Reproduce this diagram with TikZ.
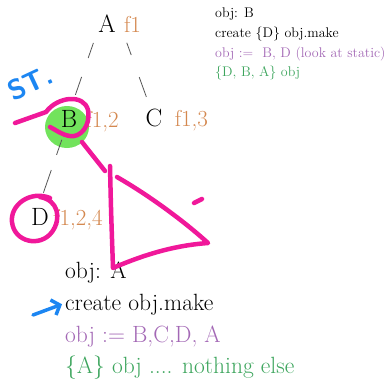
\documentclass[tikz,border=0pt]{standalone}
\usetikzlibrary{arrows.meta,positioning}
\definecolor{labelorange}{HTML}{D4884F}
\definecolor{notepurple}{HTML}{A368B5}
\definecolor{notegreen}{HTML}{3DA55D}
\definecolor{edgegray}{HTML}{555555}
\definecolor{penpink}{HTML}{F0189A}
\definecolor{penblue}{HTML}{1C86F2}
\definecolor{hlgreen}{HTML}{72E35C}

\begin{document}
\begin{tikzpicture}[x=1pt, y=-1pt,
  letter/.style={inner sep=0pt, font=\fontsize{25}{25}\selectfont},
  flabel/.style={inner sep=0pt, anchor=base west, text=labelorange, font=\fontsize{23}{23}\selectfont},
  edge/.style={draw=edgegray, line width=0.8pt},
  note/.style={inner sep=0pt, anchor=base west, font=\fontsize{14}{14}\selectfont},
  bignote/.style={inner sep=0pt, anchor=base west, font=\fontsize{23.5}{23.5}\selectfont},
  pen/.style={draw=penpink, line width=4.5pt, line cap=round, line join=round},
  bluepen/.style={draw=penblue, line width=3.5pt, line cap=round, line join=round}
]
  \useasboundingbox (0,0) rectangle (390,386);

  % highlighter under B
  \fill[hlgreen] (67,127) ellipse [x radius=22, y radius=21];

  % tree
  \node[letter] (A) at (107,24) {A};
  \node[letter] (B) at (69,119) {B};
  \node[letter] (C) at (154,118) {C};
  \node[letter] (D) at (40,217) {D};
  \node[flabel] (fA) at ([xshift=8pt]A.base east) {f1};
  \node[flabel] (fB) at ([xshift=8pt]B.base east) {f1,2};
  \node[flabel] (fC) at ([xshift=12pt]C.base east) {f1,3};
  \node[flabel] (fD) at ([xshift=4pt]D.base east) {f1,2,4};

  \draw[edge, shorten <=20pt, shorten >=25pt, dash pattern=on 16pt off 20pt on 19pt off 60pt] ([xshift=-7pt]A.center) -- ([xshift=-2pt]B.center);
  \draw[edge, shorten <=20pt, shorten >=22pt, dash pattern=on 13pt off 23.5pt on 21pt off 60pt] ([xshift=13pt]A.center) -- (C.center);
  \draw[edge, shorten <=22pt, shorten >=25pt, dash pattern=on 16pt off 16pt on 24pt off 60pt] (B.center) -- ([xshift=-5pt]D.center);

  % notes
  \node[note] (r1) at (215,17) {obj: B};
  \node[note] (r2) at (215,37) {create \{D\} obj.make};
  \node[note, text=notepurple] (r3) at (215,57) {obj :=\ \ B, D (look at static)};
  \node[note, text=notegreen] (r4) at (215,76) {\{D, B, A\} obj};

  \node[bignote] (b1) at (65,278) {obj: A};
  \node[bignote] (b2) at (65,310) {create obj.make};
  \node[bignote, text=notepurple] (b3) at (65,342) {obj := B,C,D, A};
  \node[bignote, text=notegreen] (b4) at (65,373) {\{A\} obj .... nothing else};

  % scribbles
  \draw[pen] (15,123) -- (46,112) .. controls (58,96) and (84,94) .. (88,110)
    .. controls (91,126) and (80,138) .. (70,136) .. controls (62,135) and (56,130) .. (50,127);
  \draw[pen] (82,142) -- (105,171);
  \draw[pen] (110,166) .. controls (111,210) .. (113,268) .. controls (150,252) and (180,245) .. (208,243)
    .. controls (185,222) and (150,196) .. (117,177);
  \draw[pen] (194,203) -- (202,199);
  \draw[pen] (50,198) .. controls (30,190) and (10,205) .. (12,222) .. controls (14,242) and (40,248) .. (52,232)
    .. controls (62,218) and (58,200) .. (40,197);

  \node[text=penblue, font=\sffamily\bfseries\fontsize{28}{28}\selectfont, rotate=25, inner sep=0pt] (st) at (30,83) {ST.};
  \coordinate (arrtail) at (33,315);
  \draw[bluepen, -{Straight Barb[length=7pt, width=16pt]}] (arrtail) -- ([xshift=-3pt]b2.west);
\end{tikzpicture}
\end{document}
